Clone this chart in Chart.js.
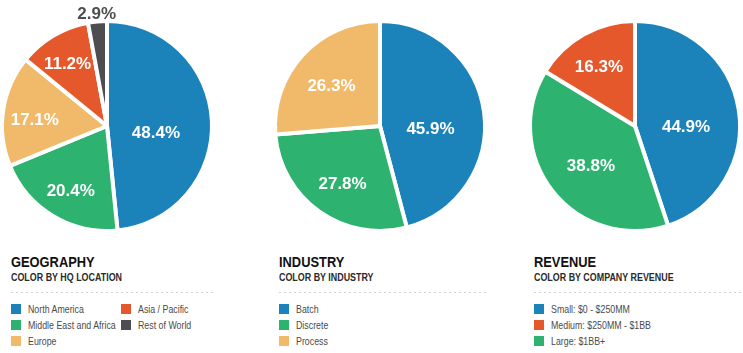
<!DOCTYPE html>
<html>
<head>
<meta charset="utf-8">
<script src="https://cdn.jsdelivr.net/npm/chart.js@4/dist/chart.umd.min.js"></script>
<style>
  html, body { margin: 0; padding: 0; background: #fff; }
  body { width: 743px; height: 353px; position: relative; overflow: hidden; }
  canvas { position: absolute; top: 0; }
  .block { position: absolute; top: 0; }
  .title, .sub, .txt { display: inline-block; transform-origin: 0 0; white-space: nowrap; font-family: "Liberation Sans", Arial, sans-serif; }
  .title { position: absolute; top: 254px; left: 0; font-weight: bold; font-size: 15.5px; line-height: 15px; color: #111; transform: scaleX(0.83); }
  .sub { position: absolute; top: 272px; left: 0; font-weight: bold; font-size: 11px; line-height: 11px; color: #2a2a2a; transform: scaleX(0.81); }
  .dots { position: absolute; top: 292px; left: 0; height: 1px;
    background: repeating-linear-gradient(to right, #cfd3d6 0 2px, transparent 2px 5px); }
  .legend { position: absolute; top: 301px; left: 0; display: grid; grid-auto-flow: column; grid-template-rows: 16px 16px 16px; }
  .item { height: 16px; display: flex; align-items: flex-start; }
  .txt { font-size: 10.5px; line-height: 16px; color: #4a4a4a; transform: scaleX(0.84); }
  .sw { width: 10px; height: 10px; margin-top: 3px; margin-right: 7px; flex: none; }
</style>
</head>
<body>
<canvas id="geo" width="240" height="240" style="left:-13px"></canvas>
<canvas id="ind" width="240" height="240" style="left:260px"></canvas>
<canvas id="rev" width="240" height="240" style="left:515px"></canvas>

<div class="block" id="geoText" style="left:11px"></div>
<div class="block" id="indText" style="left:279px"></div>
<div class="block" id="revText" style="left:534px"></div>

<script>
var BLUE = 'rgb(27,130,186)';
var GREEN = 'rgb(45,178,112)';
var YELLOW = 'rgb(240,186,106)';
var ORANGE = 'rgb(228,88,44)';
var GREY = 'rgb(78,78,80)';

// geography
var geoLabels = ['North America', 'Middle East and Africa', 'Europe', 'Asia / Pacific', 'Rest of World'];
var geoValues = [48.4, 20.4, 17.1, 11.2, 2.9];
var geoColors = [BLUE, GREEN, YELLOW, ORANGE, GREY];
var geoLegendOrder = [0, 1, 2, 3, 4];

// industry
var indLabels = ['Batch', 'Discrete', 'Process'];
var indValues = [45.9, 27.8, 26.3];
var indColors = [BLUE, GREEN, YELLOW];
var indLegendOrder = [0, 1, 2];

// revenue
var revLabels = ['Small: $0 - $250MM', 'Large: $1BB+', 'Medium: $250MM - $1BB'];
var revValues = [44.9, 38.8, 16.3];
var revColors = [BLUE, GREEN, ORANGE];
var revLegendOrder = [0, 2, 1];

// percent labels on the slices, small slices get theirs outside
var pctLabels = {
  id: 'pctLabels',
  afterDatasetsDraw: function (chart) {
    var ctx = chart.ctx;
    var meta = chart.getDatasetMeta(0);
    var vals = chart.data.datasets[0].data;
    ctx.save();
    ctx.font = 'bold 17px "Liberation Sans", Arial, sans-serif';
    ctx.textAlign = 'center';
    ctx.textBaseline = 'middle';
    meta.data.forEach(function (arc, i) {
      var mid = (arc.startAngle + arc.endAngle) / 2;
      var outside = vals[i] < 5;
      // bigger slices keep their label nearer the middle
      var f = outside ? 1.08 : 0.82 - 0.0073 * vals[i];
      var r = arc.outerRadius * f;
      var dy = outside ? 1 : (vals[i] > 40 ? 10 : 5);
      ctx.fillStyle = outside ? GREY : '#fff';
      ctx.fillText(vals[i].toFixed(1) + '%', arc.x + Math.cos(mid) * r, arc.y + Math.sin(mid) * r + dy);
    });
    ctx.restore();
  }
};

function makePie(id, labels, values, colors) {
  new Chart(document.getElementById(id), {
    type: 'pie',
    data: {
      labels: labels,
      datasets: [{
        data: values,
        backgroundColor: colors,
        borderColor: '#fff',
        borderWidth: 4
      }]
    },
    options: {
      responsive: false,
      animation: false,
      devicePixelRatio: 1,
      layout: { padding: { left: 13, right: 13, top: 19, bottom: 7 } },
      plugins: { legend: { display: false }, tooltip: { enabled: false } }
    },
    plugins: [pctLabels]
  });
}

function makeText(id, title, sub, labels, colors, order, dotsWidth, colWidths) {
  var el = document.getElementById(id);
  var html = '<div class="title">' + title + '</div>' +
    '<div class="sub">' + sub + '</div>' +
    '<div class="dots" style="width:' + dotsWidth + 'px"></div>' +
    '<div class="legend" style="grid-template-columns:' + colWidths + '">';
  order.forEach(function (i) {
    html += '<div class="item"><span class="sw" style="background:' + colors[i] + '"></span><span class="txt">' + labels[i] + '</span></div>';
  });
  html += '</div>';
  el.innerHTML = html;
}

makePie('geo', geoLabels, geoValues, geoColors);
makePie('ind', indLabels, indValues, indColors);
makePie('rev', revLabels, revValues, revColors);

makeText('geoText', 'GEOGRAPHY', 'COLOR BY HQ LOCATION', geoLabels, geoColors, geoLegendOrder, 205, '110px 110px');
makeText('indText', 'INDUSTRY', 'COLOR BY INDUSTRY', indLabels, indColors, indLegendOrder, 210, '150px');
makeText('revText', 'REVENUE', 'COLOR BY COMPANY REVENUE', revLabels, revColors, revLegendOrder, 209, '180px');
</script>
</body>
</html>
